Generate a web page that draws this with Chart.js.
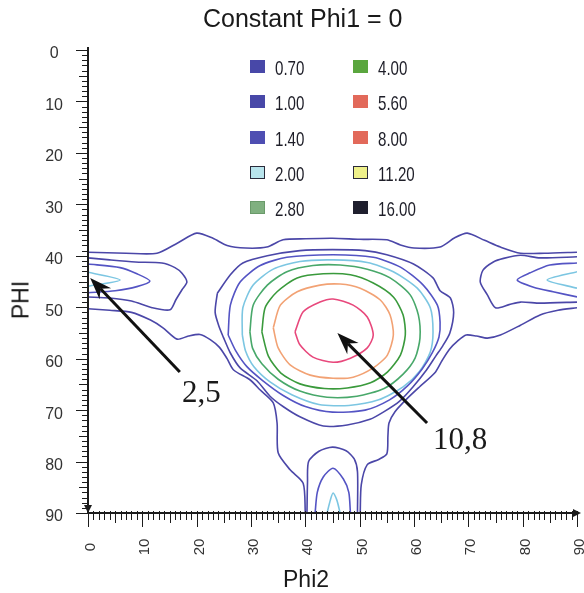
<!DOCTYPE html>
<html><head><meta charset="utf-8">
<script src="https://cdn.jsdelivr.net/npm/chart.js@4.4.1/dist/chart.umd.min.js"></script>
<style>
html,body{margin:0;padding:0;background:#fff;overflow:hidden;}
#wrap{position:relative;width:584px;height:593px;overflow:hidden;background:#fff;}
canvas{position:absolute;left:0;top:0;}
.t{position:absolute;white-space:nowrap;line-height:1;font-family:"Liberation Sans",Arial,sans-serif;color:#1a1a1a;}
.lg{position:absolute;white-space:nowrap;line-height:1;font-family:"Liberation Sans",Arial,sans-serif;font-size:21px;color:#1e1e28;transform:scaleX(0.72);transform-origin:0 0;}
.sw{position:absolute;width:15px;height:13px;box-sizing:border-box;}
.serif{font-family:"Liberation Serif","Times New Roman",serif;font-size:31px;color:#1a1a1a;}
</style></head><body>
<div id="wrap"><canvas id="c" width="584" height="593"></canvas></div>
<script>
// ---------- data ----------
const phi2Ticks = [0,10,20,30,40,50,60,70,80,90];
const phiTicks  = [0,10,20,30,40,50,60,70,80,90];
const levels = ['0.70','1.00','1.40','2.00','2.80','4.00','5.60','8.00','11.20','16.00'];

// contour lines as [Phi2, PHI] pairs
const c070Top = [[0,39.3],[7,39.5],[12.7,39.5],[16.5,37.5],[20,35.6],[23,36.6],[25.6,38],[29,38.5],[32.9,38.3],[35.9,36.9],[40,36.7],[45,36.6],[50,36.8],[55,36.9],[57.5,37.9],[60,38.5],[64.8,38.3],[67.5,36.5],[69.8,35.6],[73,37],[75.9,38.3],[79.6,39.5],[84,39.5],[90,39.3]];
const c070LowerLeft = [[0,50.3],[4,50.6],[8,51],[11.5,52.5],[13.8,54],[16.4,56.2],[18.5,55.6],[20.6,55.3],[22.5,56.3],[24.2,57.8],[25.6,60],[26.8,62.2],[29.8,64.1],[31.7,66.1],[34.1,68.6],[34.8,72.5],[35,78.3],[37.2,81.6],[39.6,84.2],[40,90]];
const c070LowerRight = [[50.1,90],[50.3,84.5],[51.4,80.6],[53.5,79.6],[55,78.5],[55.2,75],[55.4,72.5],[56.5,70.3],[58.5,68],[61,65.5],[63.8,62.8],[65.2,60.3],[66.5,58.2],[68,56.6],[69.6,55.4],[71.5,55.6],[73.5,56],[75.9,55.4],[79.6,53.5],[83.2,51.5],[86.5,50.6],[90,50.1]];

const c100LobeLeft = [[0,40.4],[4,40.8],[8.7,41.2],[13.6,41.4],[16,42.3],[17.3,43.4],[18.2,45.1],[17.3,46.6],[16.2,48.5],[15.1,50.5],[11.8,50.1],[8,48.8],[4,48.2],[0,48]];
const c140LobeLeft = [[0,41.6],[5.9,42.3],[9,43.5],[11.4,44.9],[9,46],[5,46.8],[0,47.2]];
const c200LobeLeft = [[0,43.2],[5.9,44.7],[0,45.9]];
const c100LobeRight = [[90,40.2],[83.2,40.4],[79.6,39.9],[76.5,40.5],[74.6,41.2],[72.7,42.8],[72.2,45.1],[73.5,47.6],[75,50.1],[77.5,49.5],[79.6,49],[83.2,49.2],[90,49]];
const c140LobeRight = [[90,41.4],[85,41.8],[81.4,43.3],[79,44.7],[82,46.1],[85.6,47],[90,48]];
const c200LobeRight = [[90,43.1],[84.5,44.7],[90,46.3]];

const c100Main = [[23.8,47.3],[23.4,51],[24.2,54],[24.9,55.8],[26.2,58.9],[28,61.8],[31.1,64.3],[33.5,67.3],[35.9,69.3],[39,71.3],[43.3,73.1],[47.7,72.9],[51.9,71.8],[54.5,70.3],[57.3,68.3],[59.8,65.5],[62.3,62.2],[64,59.5],[65.3,57.5],[66.6,55],[67.3,51],[66.7,48.2],[64.8,46.8],[63.5,44.3],[59.9,41.6],[55,39.8],[51,39],[45,38.8],[39,39],[33,40],[28.5,41.4],[26.2,43.7],[23.8,47.3]];
const c140Main = [[25.8,55.4],[26.2,49.6],[28,45.1],[31.7,41.9],[36.6,40.3],[45.1,39.8],[52.5,40.3],[57.5,42.2],[61.7,45.7],[64.3,49.6],[64.8,52.9],[64.6,55.8],[63.4,58.8],[61.5,62],[58.8,65.3],[55.5,68],[51,70],[45,70.4],[40,69.3],[36,67.2],[32.2,64.3],[29.2,61.5],[27.2,58.5],[25.8,55.4]];
const c200Main = [[28.4,55.4],[28.5,50.1],[30.4,45.7],[34.1,42.6],[39,41.1],[45.1,40.8],[51.4,41.3],[56.2,43.1],[60.6,46.3],[63,50.1],[63.5,54.8],[63,58.7],[61,62.5],[58,65.5],[53.5,68],[48,69.1],[42.5,68.9],[37.5,67],[33.5,64.5],[30.5,61.5],[29,58.5],[28.4,55.4]];
const c280Main = [[29.8,54.8],[30.4,49.6],[33,45.7],[36.6,43.1],[41.4,41.9],[46.4,41.8],[51.4,42.6],[55.6,44.3],[59.3,47.6],[60.8,51.5],[61.1,56],[60.2,59.9],[58,63],[54.5,65.8],[49.5,67.3],[44,67.5],[39,66.3],[35,64],[32,61],[30.3,58],[29.8,54.8]];
const c400Main = [[32,54.8],[32.6,50.1],[34.8,47],[38.5,44.3],[43.3,43.5],[48.3,43.7],[52.5,45.3],[56.2,48],[58,51.5],[58.4,55.4],[57.5,59.3],[55.1,62.6],[52,64.7],[47.7,65.7],[43.5,65.8],[39,64.9],[35.5,62.8],[33.2,59.5],[32,54.8]];
const c560Main = [[34.1,54],[35.4,49.6],[38.5,47],[42.7,45.7],[46.4,45.5],[50.1,46.3],[53.8,48.6],[55.6,51.5],[56.2,55.4],[55.1,59.3],[52.5,61.8],[48.8,63.6],[45.1,63.8],[40.9,63.2],[37.2,61.2],[35,57.9],[34.1,54]];
const c800Main = [[38.1,54.8],[39.6,50.9],[42.7,49],[45.1,48.4],[48.8,49.6],[51.4,51.9],[52.5,55.4],[51.4,57.9],[48.3,59.9],[45.1,60.7],[41.4,59.7],[39,57.3],[38.1,54.8]];

const c100Foot = [[40.3,90],[40.4,84],[40.6,80],[42.5,78],[45,77.2],[47.5,77.9],[49,79.5],[49.6,82],[49.6,90]];
const c140Foot = [[41.8,90],[42.2,86],[43.3,83],[45.1,81.3],[47,83.4],[48,86],[48.3,90]];
const c200Foot = [[44,90],[44.6,87.5],[45.1,86.1],[45.8,87.5],[46.4,90]];

// peak values marked on the section [label, Phi2, PHI]
const peakLabels = ['2,5','10,8'];
const peakPoints = [[0.4,44.3],[45.9,55.0]];

// ---------- styles / layout ----------
const lineColor = {'0.70':'#4b47a8','1.00':'#4b47a8','1.40':'#5454c4','2.00':'#7cc6e2','2.80':'#48a86a','4.00':'#3a9a3c','5.60':'#f2a274','8.00':'#e8487c'};
const swatch = {
 '0.70':'background:#4848a8;','1.00':'background:#4848a8;','1.40':'background:#4e4eb2;',
 '2.00':'background:#b8e4ec;border:1.5px solid #2a2a3a;','2.80':'background:#80b080;border:1px solid #6a9a6a;',
 '4.00':'background:#5aa63e;','5.60':'background:#e2695a;','8.00':'background:#e2695a;',
 '11.20':'background:#eef08a;border:1.5px solid #2a2a3a;','16.00':'background:#1f1f2e;'};
// arrow tail and label anchor (data coords) for each peak callout
const calloutTail = [[16.9,62.6],[62.4,72.5]];
const calloutText = [[17.3,63.4],[63.5,72.5]];

const contourLines = [
 ['0.70',c070Top],['0.70',c070LowerLeft],['0.70',c070LowerRight],
 ['1.00',c100LobeLeft],['1.00',c100LobeRight],['1.00',c100Main],['1.00',c100Foot],
 ['1.40',c140LobeLeft],['1.40',c140LobeRight],['1.40',c140Main],['1.40',c140Foot],
 ['2.00',c200LobeLeft],['2.00',c200LobeRight],['2.00',c200Main],['2.00',c200Foot],
 ['2.80',c280Main],['4.00',c400Main],['5.60',c560Main],['8.00',c800Main]
];

const FONT = '"Liberation Sans", Arial, sans-serif';

function drawArrow(ctx, x1, y1, x2, y2){
  const a = Math.atan2(y2-y1, x2-x1);
  const c = Math.cos(a), s = Math.sin(a);
  const hl = 22, hw = 8, notch = 15;
  ctx.lineWidth = 3;
  ctx.beginPath(); ctx.moveTo(x1,y1); ctx.lineTo(x2 - notch*c, y2 - notch*s); ctx.stroke();
  const bx = x2 - hl*c, by = y2 - hl*s;
  ctx.beginPath();
  ctx.moveTo(x2,y2);
  ctx.lineTo(bx - hw*s, by + hw*c);
  ctx.lineTo(x2 - notch*c, y2 - notch*s);
  ctx.lineTo(bx + hw*s, by - hw*c);
  ctx.closePath(); ctx.fill();
}

const rulerPlugin = {
  id:'ruler',
  afterDatasetsDraw(chart){
    const {ctx, scales:{x, y}} = chart;
    const x0 = x.getPixelForValue(0), x90 = x.getPixelForValue(90);
    const y0 = y.getPixelForValue(0), y90 = y.getPixelForValue(90);
    ctx.save();
    ctx.strokeStyle = '#1c1c1c'; ctx.fillStyle = '#1c1c1c';
    ctx.lineWidth = 2;
    ctx.beginPath(); ctx.moveTo(x0, y0-3); ctx.lineTo(x0, y90); ctx.stroke();
    ctx.beginPath(); ctx.moveTo(x0, y90); ctx.lineTo(x90+2, y90); ctx.stroke();
    ctx.lineWidth = 1;
    for (let v = 0; v <= 90; v++){
      const ly = v%10===0 ? 12 : (v%5===0 ? 9 : 6);
      const py = Math.round(y.getPixelForValue(v)) + 0.5;
      ctx.beginPath(); ctx.moveTo(x0-ly, py); ctx.lineTo(x0, py); ctx.stroke();
      const lx = v%10===0 ? 14 : (v%5===0 ? 10 : 7);
      const px = Math.round(x.getPixelForValue(v)) + 0.5;
      ctx.beginPath(); ctx.moveTo(px, y90-2); ctx.lineTo(px, y90+lx); ctx.stroke();
    }
    // axis arrowheads
    ctx.beginPath(); ctx.moveTo(x90+4, y90); ctx.lineTo(x90-4, y90-4); ctx.lineTo(x90-4, y90+4); ctx.closePath(); ctx.fill();
    ctx.beginPath(); ctx.moveTo(x0, y90); ctx.lineTo(x0-4, y90-8); ctx.lineTo(x0+4, y90-8); ctx.closePath(); ctx.fill();
    // x tick labels (rotated)
    ctx.font = '15px ' + FONT;
    ctx.fillStyle = '#333';
    ctx.textAlign = 'center'; ctx.textBaseline = 'middle';
    phi2Ticks.forEach(v => {
      const px = x.getPixelForValue(v);
      ctx.save(); ctx.translate(px+3, y90+34); ctx.rotate(-Math.PI/2); ctx.fillText(String(v), 0, 0); ctx.restore();
    });
    // callout arrows
    ctx.fillStyle = '#111'; ctx.strokeStyle = '#111';
    peakPoints.forEach((p, i) => {
      const t = calloutTail[i];
      drawArrow(ctx, x.getPixelForValue(t[0]), y.getPixelForValue(t[1]), x.getPixelForValue(p[0]), y.getPixelForValue(p[1]));
    });
    ctx.restore();
  }
};

const chart = new Chart(document.getElementById('c'), {
  type:'scatter',
  data:{ datasets: contourLines.map(([lvl, pts]) => ({
    label: lvl,
    data: pts.map(p => ({x:p[0], y:p[1]})),
    showLine:true, borderColor: lineColor[lvl], borderWidth:1.6,
    pointRadius:0, pointHoverRadius:0, fill:false, tension:0.25
  }))},
  options:{
    responsive:false, animation:false, devicePixelRatio:1,
    layout:{ padding:{ top:50, right:7, left:0, bottom:0 } },
    plugins:{ legend:{display:false}, tooltip:{enabled:false}, title:{display:false} },
    scales:{
      x:{ type:'linear', min:0, max:90, position:'bottom',
          ticks:{display:false}, grid:{display:false, drawTicks:false}, border:{display:false},
          afterFit(s){ s.height = 80; } },
      y:{ type:'linear', min:0, max:90, reverse:true, position:'left',
          afterBuildTicks(s){ s.ticks = phiTicks.map(v => ({value:v})); },
          ticks:{ font:{size:16, family:FONT}, color:'#333', crossAlign:'center', padding:25, labelOffset:4 },
          grid:{display:false, drawTicks:false}, border:{display:false},
          afterFit(s){ s.width = 88; } }
    }
  },
  plugins:[rulerPlugin]
});

// ---------- HTML text ----------
const wrap = document.getElementById('wrap');
function addDiv(cls, text, css){ const d = document.createElement('div'); d.className = cls; d.textContent = text; d.style.cssText = css; wrap.appendChild(d); return d; }
addDiv('t', 'Constant Phi1 = 0', 'left:203px;top:6px;font-size:25px;');
addDiv('t', 'Phi2', 'left:283px;top:568px;font-size:23px;');
addDiv('t', 'PHI', 'left:21px;top:300px;font-size:23px;transform:translate(-50%,-50%) rotate(-90deg);');

levels.forEach((lv, i) => {
  const col = Math.floor(i/5), row = i%5;
  const sx = col ? 353 : 250, tx = col ? 378 : 275;
  const sq = document.createElement('div'); sq.className = 'sw';
  sq.style.cssText = swatch[lv] + 'left:' + sx + 'px;top:' + (60 + row*35.3) + 'px;';
  wrap.appendChild(sq);
  addDiv('lg', lv, 'left:' + tx + 'px;top:' + (57 + row*35.3) + 'px;');
});

const xs = chart.scales.x, ys = chart.scales.y;
peakLabels.forEach((lab, i) => {
  const p = calloutText[i];
  addDiv('t serif', lab, 'left:' + xs.getPixelForValue(p[0]) + 'px;top:' + ys.getPixelForValue(p[1]) + 'px;');
});
</script>
</body></html>
